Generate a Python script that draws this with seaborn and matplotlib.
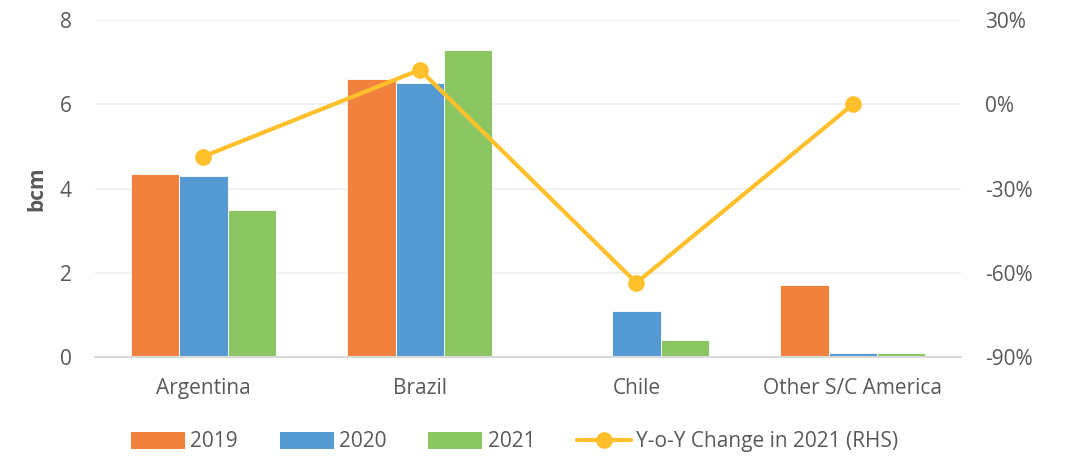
import matplotlib
matplotlib.use("Agg")
import matplotlib.pyplot as plt
import seaborn as sns
import pandas as pd
from matplotlib.ticker import FuncFormatter, FixedLocator
from matplotlib.lines import Line2D
from matplotlib.patches import Patch

regions = ["Argentina", "Brazil", "Chile", "Other S/C America"]
years = ["2019", "2020", "2021"]
vol_2019 = [4.35, 6.6, 0.0, 1.7]
vol_2020 = [4.3, 6.5, 1.1, 0.1]
vol_2021 = [3.5, 7.3, 0.4, 0.1]
yoy_2021 = [-18.6, 12.3, -63.6, 0.0]

bar_colors = ["#F0823D", "#559AD3", "#8BC663"]
line_color = "#FFC02B"
text_color = "#595959"

sns.set_theme(style="white")
plt.rcParams["font.family"] = ["Open Sans", "DejaVu Sans"]

df = pd.DataFrame({
    "region": regions * 3,
    "year": [y for y in years for _ in regions],
    "bcm": vol_2019 + vol_2020 + vol_2021,
})

fig = plt.figure(figsize=(10.68, 4.57), dpi=100)
ax = fig.add_axes([0.089, 0.219, 0.811, 0.737])

sns.barplot(data=df, x="region", y="bcm", hue="year", order=regions,
            hue_order=years, palette=bar_colors, width=0.67,
            edgecolor="white", linewidth=0.6, saturation=1, ax=ax, legend=False)

ax.set_ylim(0, 8)
ax.set_xlim(-0.5, 3.5)
ax.yaxis.set_major_locator(FixedLocator([0, 2, 4, 6, 8]))
ax.grid(axis="y", color="#EDEDED", linewidth=1.2)
ax.set_axisbelow(True)
for s in ["top", "right", "left"]:
    ax.spines[s].set_visible(False)
ax.spines["bottom"].set_color("#D9D9D9")
ax.spines["bottom"].set_linewidth(1.5)
ax.set_xlabel("")
ax.set_ylabel("bcm", fontsize=15, fontweight="bold", color=text_color)
ax.yaxis.set_label_coords(-0.055, 0.5)
ax.tick_params(axis="both", length=0, labelsize=15, labelcolor=text_color)
ax.tick_params(axis="x", pad=15)
ax.tick_params(axis="y", pad=17)

ax2 = ax.twinx()
line_df = pd.DataFrame({"x": list(range(len(regions))), "yoy": yoy_2021})
sns.lineplot(data=line_df, x="x", y="yoy", color=line_color, linewidth=3,
             marker="o", markersize=12, markeredgewidth=0, ax=ax2)
ax2.set_ylim(-90, 30)
ax2.set_xlim(-0.5, 3.5)
ax2.yaxis.set_major_locator(FixedLocator([-90, -60, -30, 0, 30]))
ax2.yaxis.set_major_formatter(FuncFormatter(lambda v, p: f"{v:.0f}%"))
ax2.set_ylabel("")
ax2.set_xlabel("")
for s in ["top", "right", "left", "bottom"]:
    ax2.spines[s].set_visible(False)
ax2.tick_params(axis="y", length=0, labelsize=15, labelcolor=text_color, pad=17)
ax2.grid(False)

handles = [Patch(facecolor=c, edgecolor="none") for c in bar_colors]
handles.append(Line2D([0], [0], color=line_color, linewidth=3, marker="o",
                      markersize=12, markeredgewidth=0))
labels = years + ["Y-o-Y Change in 2021 (RHS)"]
fig.legend(handles, labels, loc="center", bbox_to_anchor=(0.482, 0.033),
           ncol=4, frameon=False, fontsize=15, labelcolor=text_color,
           handlelength=2.6, handleheight=0.9, handletextpad=0.25,
           columnspacing=2.0)

fig.savefig("out.png", dpi=100)
